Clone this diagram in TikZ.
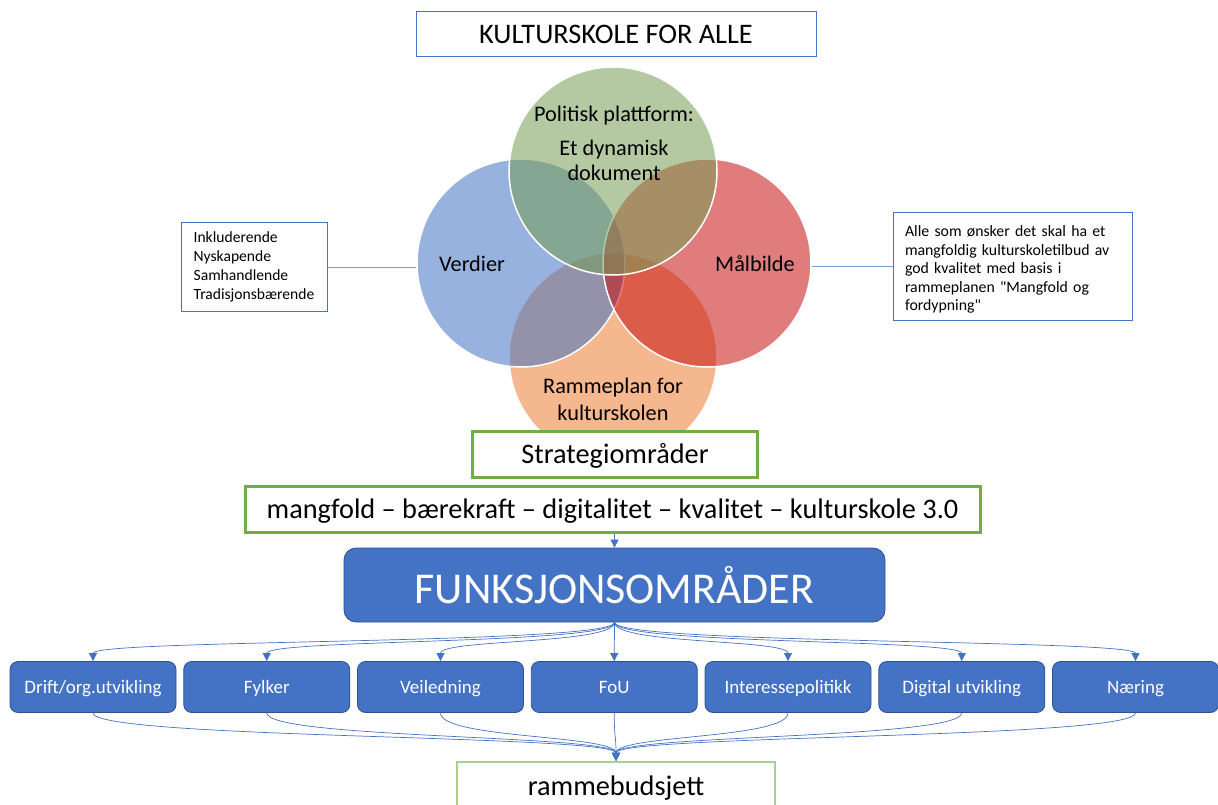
\documentclass[tikz,border=0pt]{standalone}
\usepackage{fontspec}
\setmainfont{Carlito}[Ligatures=TeXOff]
\usetikzlibrary{arrows.meta, positioning}
\definecolor{officeblue}{HTML}{4472C4}
\definecolor{darkblue}{HTML}{2F528F}
\definecolor{boxgreen}{HTML}{70AD47}
\definecolor{lightgreen}{HTML}{A9D18E}
\definecolor{venngreen}{HTML}{779D56}
\definecolor{vennred}{HTML}{C71111}
\definecolor{vennorange}{HTML}{ED7D31}

\begin{document}
\begin{tikzpicture}[x=1pt, y=-1pt,
    venn/.style={circle, draw=white, line width=1.5pt, fill opacity=0.55, draw opacity=1, minimum size=208pt, inner sep=0pt},
    venntext/.style={font=\fontsize{22.3}{25}\selectfont, align=center},
    bluebox/.style={rectangle, draw=officeblue, line width=1pt, fill=white},
    greenbox/.style={rectangle, draw=boxgreen, line width=3pt, fill=white, text height=18.2pt, text depth=0pt, font=\fontsize{28.3}{32}\selectfont},
    func/.style={rectangle, rounded corners=8pt, draw=darkblue, line width=0.8pt, fill=officeblue, text=white, minimum width=166pt, minimum height=51pt, text height=12.2pt, text depth=0pt, font=\fontsize{19}{22}\selectfont},
    link/.style={draw=officeblue, line width=0.7pt},
    tip/.style={-{Triangle[length=8pt, width=8pt]}}]
  \useasboundingbox (0,0) rectangle (1218,805);

  % title
  \node[bluebox, minimum width=400pt, minimum height=45pt, text height=18.2pt, text depth=0pt, font=\fontsize{28.3}{32}\selectfont] (title) at (616,34.5) {KULTURSKOLE FOR ALLE};

  % venn circles
  \node[venn, fill=vennorange] (ramme) at (613,357) {};
  \node[venn, fill=officeblue] (verdi) at (521,263) {};
  \node[venn, fill=vennred] (maal) at (707,263) {};
  \node[venn, fill=venngreen] (plattform) at (613,171) {};

  \node[venntext] (plattformtxt) at (614,116) {Politisk plattform:};
  \node[venntext] (dokumenttxt) at (614,160) {Et dynamisk\\dokument};
  \node[venntext] (verditxt) at (472,264) {Verdier};
  \node[venntext] (maaltxt) at (755,264) {Målbilde};
  \node[venntext, font=\fontsize{22.3}{27}\selectfont] (rammetxt) at (613,399) {Rammeplan for\\kulturskolen};

  % side boxes
  \node[bluebox, minimum width=146pt, minimum height=88pt, align=left, font=\fontsize{15.6}{19}\selectfont] (values) at (254,267) {Inkluderende\\Nyskapende\\Samhandlende\\Tradisjonsbærende};
  \node[bluebox, minimum width=239pt, minimum height=107pt, text width=215pt, align=left, inner sep=0pt, font=\fontsize{15.8}{18.5}\selectfont] (goal) at (1012.5,266.5) {\rule{0pt}{17pt}Alle som ønsker det skal ha et\\mangfoldig kulturskoletilbud av\\god kvalitet med basis i\\rammeplanen "Mangfold og\\fordypning"};
  \draw[link, draw=officeblue!70] (values.east) -- (values.east -| verdi.west);
  \draw[link, draw=officeblue!70] (maal.east |- goal.west) -- (goal.west);

  % strategy
  \node[greenbox, minimum width=285pt, minimum height=46pt] (strategi) at (615,454) {Strategiområder};
  \node[greenbox, minimum width=735pt, minimum height=46pt] (themes) at (612.5,509.5) {mangfold – bærekraft – digitalitet – kvalitet – kulturskole 3.0};

  \node[rectangle, rounded corners=12pt, draw=darkblue, line width=0.8pt, fill=officeblue, text=white, minimum width=541pt, minimum height=74pt, font=\fontsize{44}{50}\selectfont] (funk) at (614.5,585) {FUNKSJONSOMRÅDER};
  \draw[link, tip] (funk.north |- themes.south) -- (funk.north);

  % function areas
  \foreach \lbl [count=\i] in {Drift/org.utvikling, Fylker, Veiledning, FoU, Interessepolitikk, Digital utvikling, Næring}
    \node[func] (f\i) at ({93+173.75*(\i-1)},687) {\lbl};

  \node[rectangle, draw=lightgreen, line width=2.5pt, fill=white, minimum width=318pt, minimum height=50pt] (budget) at (616,787) {};
  \node[text height=18.2pt, text depth=0pt, font=\fontsize{28.3}{32}\selectfont] (budgettxt) at (616,786) {rammebudsjett};

  \foreach \i in {1,...,7} {
    \draw[link, tip] (funk.south) .. controls +(0,22) and +(0,-22) .. (f\i.north);
    \draw[link, tip] (f\i.south) .. controls +(0,26) and +(0,-26) .. (budget.north);
  }
\end{tikzpicture}
\end{document}
